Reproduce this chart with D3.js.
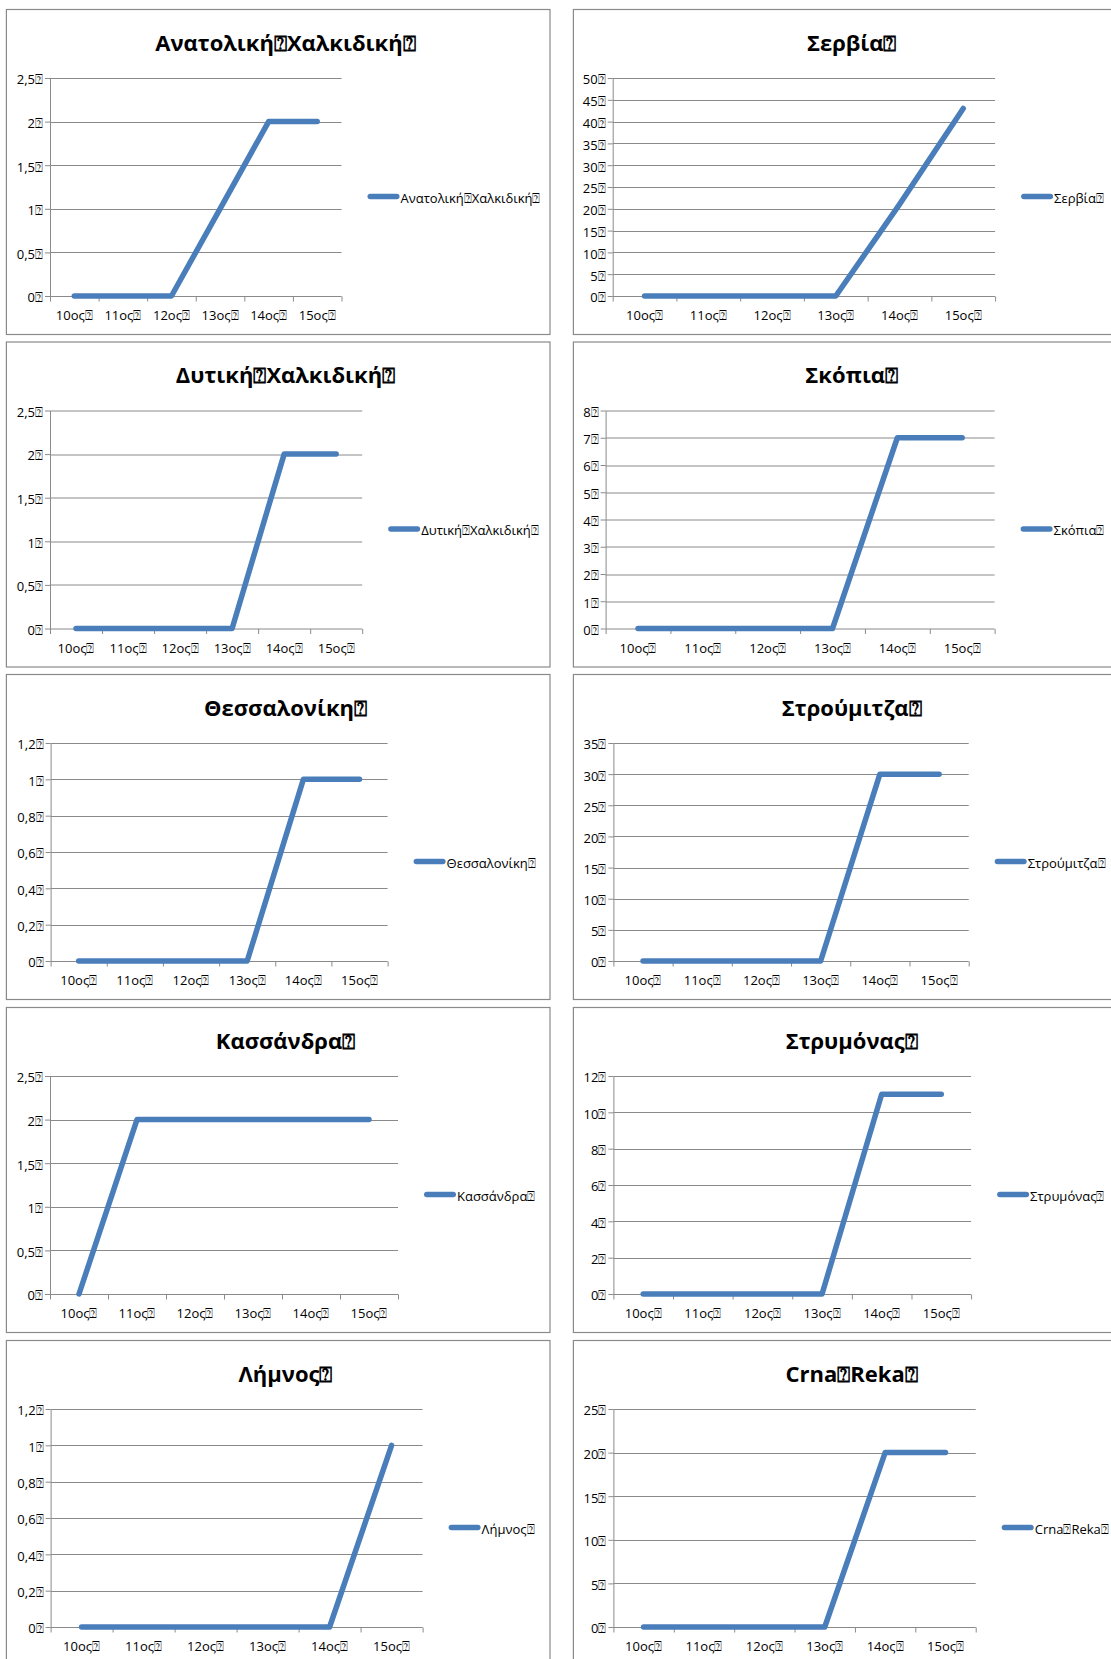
<!DOCTYPE html>
<html>
<head>
<meta charset="utf-8">
<script src="https://cdn.jsdelivr.net/npm/d3@7"></script>
<style>
  html, body { margin: 0; padding: 0; background: #fff; }
  svg { display: block; }
  text { font-family: "Open Sans", "Noto Sans", "DejaVu Sans", sans-serif; fill: #000; }
</style>
</head>
<body>
<svg id="chart" width="1111" height="1659"></svg>
<script>
// ---------- data ----------
const categories = ["10ος", "11ος", "12ος", "13ος", "14ος", "15ος"];

const regionNames = [
  "Ανατολική Χαλκιδική", "Σερβία",
  "Δυτική Χαλκιδική", "Σκόπια",
  "Θεσσαλονίκη", "Στρούμιτζα",
  "Κασσάνδρα", "Στρυμόνας",
  "Λήμνος", "Crna Reka"
];

const anatolikiChalkidiki = [0, 0, 0, 1, 2, 2];
const servia              = [0, 0, 0, 0, 21, 43];
const dytikiChalkidiki    = [0, 0, 0, 0, 2, 2];
const skopia              = [0, 0, 0, 0, 7, 7];
const thessaloniki        = [0, 0, 0, 0, 1, 1];
const stroumitza          = [0, 0, 0, 0, 30, 30];
const kassandra           = [0, 2, 2, 2, 2, 2];
const strymonas           = [0, 0, 0, 0, 11, 11];
const limnos              = [0, 0, 0, 0, 0, 1];
const crnaReka            = [0, 0, 0, 0, 20, 20];

const seriesValues = [
  anatolikiChalkidiki, servia,
  dytikiChalkidiki, skopia,
  thessaloniki, stroumitza,
  kassandra, strymonas,
  limnos, crnaReka
];

// y-axis tick values for each panel
const yTicks = [
  [0, 0.5, 1, 1.5, 2, 2.5],
  [0, 5, 10, 15, 20, 25, 30, 35, 40, 45, 50],
  [0, 0.5, 1, 1.5, 2, 2.5],
  [0, 1, 2, 3, 4, 5, 6, 7, 8],
  [0, 0.2, 0.4, 0.6, 0.8, 1, 1.2],
  [0, 5, 10, 15, 20, 25, 30, 35],
  [0, 0.5, 1, 1.5, 2, 2.5],
  [0, 2, 4, 6, 8, 10, 12],
  [0, 0.2, 0.4, 0.6, 0.8, 1, 1.2],
  [0, 5, 10, 15, 20, 25]
];

// ---------- layout ----------
const panelLeft = [6.4, 573.4];
const panelTop = [9, 341.5, 674, 1007, 1340];
const panelW = [543.6, 560];
const panelH = 325;
const titleCx = [279.1, 278.3];
const plotTop = 69, plotBottom = 287;
const plotLeft  = [43.6, 39.3, 43.6, 32.2, 44.2, 40, 43.6, 40, 44.2, 40];
const plotRight = [335.1, 421.7, 355.8, 421.2, 381.2, 395.3, 391.6, 397.7, 416.2, 402.3];

const BOX = "\u2370";
const lineColor = "#4a7ebb";
const gridColor = "#8a8a8a";

const locale = d3.formatLocale({decimal: ",", thousands: ".", grouping: [3], currency: ["", "€"]});
const fmt = locale.format(".1~f");

const svg = d3.select("#chart");
svg.append("rect").attr("width", 1111).attr("height", 1659).attr("fill", "#fff");

regionNames.forEach((name, i) => {
  const col = i % 2, row = Math.floor(i / 2);
  const g = svg.append("g").attr("transform", `translate(${panelLeft[col]},${panelTop[row]})`);

  g.append("rect")
    .attr("x", 0).attr("y", 0.5)
    .attr("width", panelW[col]).attr("height", panelH)
    .attr("fill", "#fff").attr("stroke", gridColor).attr("stroke-width", 1.2);

  const label = name.replace(/ /g, BOX) + BOX;

  // title
  g.append("text")
    .attr("x", titleCx[col]).attr("y", 41.5)
    .attr("text-anchor", "middle")
    .attr("font-size", 22).attr("font-weight", "bold")
    .text(label);

  const L = plotLeft[i], R = plotRight[i];
  const ticks = yTicks[i];
  const y = d3.scaleLinear().domain([0, d3.max(ticks)]).range([plotBottom, plotTop]);
  const x = d3.scaleBand().domain(categories).range([L, R]).padding(0);

  // gridlines
  g.append("g").selectAll("line").data(ticks).join("line")
    .attr("x1", L).attr("x2", R)
    .attr("y1", d => Math.round(y(d)) + 0.5).attr("y2", d => Math.round(y(d)) + 0.5)
    .attr("stroke", gridColor).attr("stroke-width", 1);

  // y axis
  const yAxis = g.append("g").attr("transform", `translate(${L},0)`)
    .call(d3.axisLeft(y).tickValues(ticks).tickSize(5).tickSizeOuter(0).tickPadding(2)
      .tickFormat(d => fmt(d) + BOX));
  yAxis.select(".domain").attr("stroke", gridColor);
  yAxis.selectAll(".tick line").attr("stroke", gridColor);
  yAxis.selectAll(".tick text").attr("font-size", 13).attr("dy", "0.45em")
    .style("font-family", '"Open Sans", "Noto Sans", sans-serif');

  // x axis tick marks at category boundaries
  const xb = d3.scaleLinear().domain([0, categories.length]).range([L, R]);
  const xTickAxis = g.append("g").attr("transform", `translate(0,${Math.round(plotBottom) + 0.5})`)
    .call(d3.axisBottom(xb).ticks(categories.length).tickSize(5).tickSizeOuter(0).tickFormat(""));
  xTickAxis.select(".domain").remove();
  xTickAxis.selectAll(".tick line").attr("stroke", gridColor);

  // x axis labels
  const xAxis = g.append("g").attr("transform", `translate(0,${plotBottom})`)
    .call(d3.axisBottom(x).tickSize(0).tickFormat(d => d + BOX));
  xAxis.select(".domain").remove();
  xAxis.selectAll(".tick text").attr("y", 24).attr("dy", 0).attr("font-size", 13)
    .style("font-family", '"Open Sans", "Noto Sans", sans-serif');

  // series line
  const lineGen = d3.line()
    .x((d, k) => x(categories[k]) + x.bandwidth() / 2)
    .y(d => y(d));
  g.append("path")
    .datum(seriesValues[i])
    .attr("d", lineGen)
    .attr("fill", "none")
    .attr("stroke", lineColor)
    .attr("stroke-width", 5.5)
    .attr("stroke-linecap", "round")
    .attr("stroke-linejoin", "round");

  // legend
  const lx = R + 26, ly = 187.5;
  g.append("line")
    .attr("x1", lx + 2.75).attr("x2", lx + 32 - 2.75).attr("y1", ly).attr("y2", ly)
    .attr("stroke", lineColor).attr("stroke-width", 5.5).attr("stroke-linecap", "round");
  g.append("text")
    .attr("x", lx + 33).attr("y", ly + 6)
    .attr("font-size", 13)
    .text(label);
});
</script>
</body>
</html>
